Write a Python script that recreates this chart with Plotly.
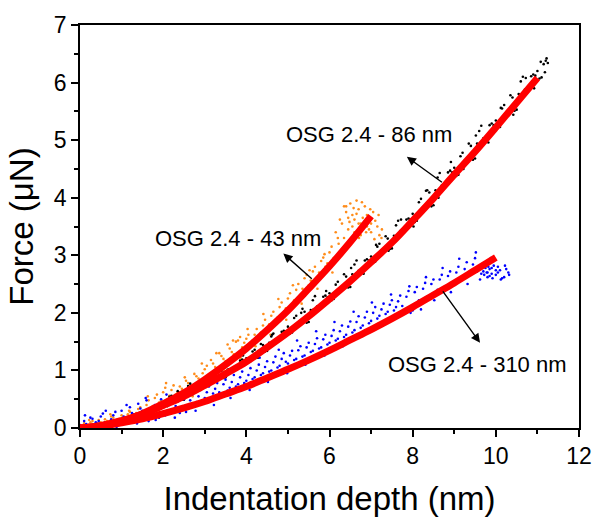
import plotly.graph_objects as go

# ---- fitted curves ----
fit43_x = [0, 0.5, 1, 1.5, 2, 2.5, 3, 3.5, 4, 4.5, 5, 5.5, 6, 6.5, 7.0]
fit43_y = [0, 0.04, 0.12, 0.25, 0.42, 0.61, 0.84, 1.10, 1.38, 1.70, 2.04, 2.42, 2.81, 3.23, 3.68]

fit86_x = [0, 0.5, 1, 1.5, 2, 2.5, 3, 3.5, 4, 4.5, 5, 5.5, 6, 6.5, 7, 7.5, 8, 8.5, 9, 9.5, 10, 10.5, 11.0]
fit86_y = [0, 0.04, 0.13, 0.24, 0.39, 0.55, 0.74, 0.94, 1.15, 1.40, 1.66, 1.94, 2.24, 2.55, 2.88, 3.22,
           3.60, 3.99, 4.40, 4.80, 5.22, 5.65, 6.08]

fit310_x = [0, 0.5, 1, 1.5, 2, 2.5, 3, 3.5, 4, 4.5, 5, 5.5, 6, 6.5, 7, 7.5, 8, 8.5, 9, 9.5, 10.0]
fit310_y = [0, 0.03, 0.09, 0.16, 0.25, 0.35, 0.46, 0.59, 0.72, 0.87, 1.02, 1.18, 1.35, 1.53, 1.71, 1.90,
            2.10, 2.31, 2.52, 2.74, 2.96]

# ---- measured points: OSG 2.4 - 43 nm (orange) ----
orange_x = [0.0, 0.1, 0.2, 0.3, 0.4, 0.5, 0.6, 0.7, 0.8, 0.9, 1.0, 1.1, 1.2, 1.3, 1.4, 1.5, 1.6, 1.7, 1.8, 1.9,
            2.0, 2.1, 2.2, 2.3, 2.4, 2.5, 2.6, 2.7, 2.8, 2.9, 3.0, 3.1, 3.2, 3.3, 3.4, 3.5, 3.6, 3.7, 3.8, 3.9,
            4.0, 4.1, 4.2, 4.3, 4.4, 4.5, 4.6, 4.7, 4.8, 4.9, 5.0, 5.1, 5.2, 5.3, 5.4, 5.5, 5.6, 5.7, 5.8, 5.9,
            6.0, 6.1, 6.2, 6.3, 6.4, 6.5, 6.6, 6.7, 6.8, 6.9, 7.0, 7.1, 7.2,
            0.05, 0.15, 0.25, 0.35, 0.45, 0.55, 0.65, 0.75, 0.85, 0.95, 1.05, 1.15, 1.25, 1.35, 1.45, 1.55,
            1.65, 1.75, 1.85, 1.95, 2.05, 2.15, 2.25, 2.35, 2.45, 2.55, 2.65, 2.75, 2.85, 2.95, 3.05, 3.15,
            3.25, 3.35, 3.45, 3.55, 3.65, 3.75, 3.85, 3.95, 4.05, 4.15, 4.25, 4.35, 4.45, 4.55, 4.65, 4.75,
            4.85, 4.95, 5.05, 5.15, 5.25, 5.35, 5.45, 5.55, 5.65, 5.75, 5.85, 5.95, 6.05, 6.15, 6.25, 6.35,
            6.45, 6.55, 6.65, 6.75, 6.85, 6.95, 7.05, 7.15, 7.25,
            6.6, 6.7, 6.8, 6.75, 6.85, 6.65, 6.9, 6.95, 6.55, 7.0, 6.45, 6.35, 6.4,
            0.22, 0.48, 0.73, 0.97, 1.18, 1.42, 1.63, 1.88, 2.07, 2.31, 2.52, 2.71, 2.93, 3.12, 3.28, 3.47,
            3.68, 3.86, 4.03, 4.22, 4.41, 4.58, 4.77, 4.96, 5.12, 5.33, 5.52, 5.71, 5.88, 6.07, 6.22, 6.33,
            6.48, 6.58, 6.71, 6.78, 6.88, 6.98, 7.08, 7.18, 7.26]
orange_y = [0.02, 0.08, 0.05, 0.12, 0.04, 0.10, 0.15, 0.09, 0.18, 0.12, 0.22, 0.16, 0.28, 0.20, 0.33, 0.26,
            0.40, 0.31, 0.52, 0.44, 0.62, 0.50, 0.66, 0.58, 0.72, 0.64, 0.78, 0.70, 0.90, 0.82, 1.02, 0.92,
            1.12, 1.00, 1.25, 1.16, 1.38, 1.28, 1.52, 1.40, 1.55, 1.47, 1.62, 1.55, 1.78, 1.70, 1.95, 1.84,
            2.10, 1.98, 2.25, 2.12, 2.40, 2.30, 2.60, 2.48, 2.72, 2.60, 2.90, 2.80, 3.05, 2.95, 3.30, 3.55,
            3.75, 3.90, 3.62, 3.80, 3.50, 3.70, 3.40, 3.60, 3.35,
            0.00, 0.03, 0.10, 0.06, 0.14, 0.05, 0.12, 0.20, 0.10, 0.16, 0.12, 0.24, 0.18, 0.26, 0.36, 0.30,
            0.48, 0.38, 0.58, 0.48, 0.70, 0.56, 0.74, 0.62, 0.68, 0.82, 0.72, 0.94, 0.86, 0.95, 1.08, 1.18,
            1.06, 1.30, 1.20, 1.45, 1.32, 1.50, 1.58, 1.48, 1.62, 1.52, 1.72, 1.66, 1.88, 1.80, 2.02, 1.92,
            2.18, 2.08, 2.34, 2.22, 2.50, 2.42, 2.66, 2.56, 2.80, 2.70, 2.96, 2.86, 3.15, 3.40, 3.62, 3.85,
            3.45, 3.70, 3.95, 3.55, 3.85, 3.45, 3.75, 3.50, 3.30,
            3.40, 3.55, 3.65, 3.35, 3.60, 3.72, 3.50, 3.65, 3.50, 3.55, 3.65, 3.30, 3.85,
            0.14, 0.02, 0.24, 0.06, 0.30, 0.14, 0.55, 0.30, 0.78, 0.45, 0.88, 0.55, 1.12, 0.78, 1.30, 0.98,
            1.52, 1.22, 1.72, 1.42, 1.98, 1.62, 2.24, 1.88, 2.48, 2.16, 2.74, 2.42, 3.02, 2.70, 3.20, 3.05,
            3.58, 3.82, 3.30, 3.92, 3.40, 3.80, 3.28, 3.70, 3.45]

# ---- measured points: OSG 2.4 - 86 nm (black) ----
black_x = [0.0, 0.3, 0.6, 0.9, 1.2, 1.5, 1.8,
           2.0, 2.1, 2.2, 2.3, 2.4, 2.5, 2.6, 2.7, 2.8, 2.9, 3.0, 3.1, 3.2, 3.3, 3.4, 3.5, 3.6, 3.7, 3.8, 3.9,
           4.0, 4.1, 4.2, 4.3, 4.4, 4.5, 4.6, 4.7, 4.8, 4.9, 5.0, 5.1, 5.2, 5.3, 5.4, 5.5, 5.6, 5.7, 5.8, 5.9,
           6.0, 6.1, 6.2, 6.3, 6.4, 6.5, 6.6, 6.7, 6.8, 6.9, 7.0, 7.1, 7.2, 7.3, 7.4, 7.5, 7.6, 7.7, 7.8, 7.9,
           8.0, 8.1, 8.2, 8.3, 8.4, 8.5, 8.6, 8.7, 8.8, 8.9, 9.0, 9.1, 9.2, 9.3, 9.4, 9.5, 9.6, 9.7, 9.8, 9.9,
           10.0, 10.1, 10.2, 10.3, 10.4, 10.5, 10.6, 10.7, 10.8, 10.9, 11.0, 11.1, 11.2,
           2.05, 2.15, 2.25, 2.35, 2.45, 2.55, 2.65, 2.75, 2.85, 2.95, 3.05, 3.15, 3.25, 3.35, 3.45, 3.55,
           3.65, 3.75, 3.85, 3.95, 4.05, 4.15, 4.25, 4.35, 4.45, 4.55, 4.65, 4.75, 4.85, 4.95, 5.05, 5.15,
           5.25, 5.35, 5.45, 5.55, 5.65, 5.75, 5.85, 5.95, 6.05, 6.15, 6.25, 6.35, 6.45, 6.55, 6.65, 6.75,
           6.85, 6.95, 7.05, 7.15, 7.25, 7.35, 7.45, 7.55, 7.65, 7.75, 7.85, 7.95, 8.05, 8.15, 8.25, 8.35,
           8.45, 8.55, 8.65, 8.75, 8.85, 8.95, 9.05, 9.15, 9.25, 9.35, 9.45, 9.55, 9.65, 9.75, 9.85, 9.95,
           10.05, 10.15, 10.25, 10.35, 10.45, 10.55, 10.65, 10.75, 10.85, 10.95, 11.05, 11.15, 11.25,
           2.52, 2.88, 3.22, 3.58, 3.92, 4.28, 4.62, 4.98, 5.32, 5.62, 5.92, 6.22, 6.52, 6.82, 7.12, 7.42,
           7.72, 8.02, 8.32, 8.62, 8.92, 9.22, 9.52, 9.82, 10.12, 10.42, 10.72, 10.92, 11.08, 11.18, 11.22]
black_y = [0.01, 0.03, 0.07, 0.10, 0.17, 0.25, 0.33,
           0.45, 0.38, 0.56, 0.50, 0.61, 0.49, 0.73, 0.66, 0.64, 0.78, 0.80, 0.74, 0.93, 0.87, 0.99, 0.88,
           1.12, 1.05, 1.05, 1.19, 1.21, 1.16, 1.36, 1.31, 1.44, 1.34, 1.59, 1.53, 1.54, 1.69, 1.76, 1.66,
           1.95, 1.85, 2.02, 1.84, 2.22, 2.11, 2.09, 2.30, 2.34, 2.24, 2.54, 2.45, 2.63, 2.45, 2.84, 2.73,
           2.72, 2.93, 2.98, 2.89, 3.20, 3.10, 3.29, 3.12, 3.52, 3.42, 3.42, 3.64, 3.72, 3.60, 3.98, 3.85,
           4.09, 3.87, 4.35, 4.21, 4.20, 4.47, 4.52, 4.40, 4.78, 4.66, 4.90, 4.68, 5.16, 5.03, 5.01, 5.29,
           5.34, 5.23, 5.61, 5.50, 5.74, 5.53, 6.02, 5.88, 5.87, 6.14, 6.20, 6.09, 6.38,
           0.38, 0.54, 0.49, 0.64, 0.49, 0.62, 0.77, 0.64, 0.76, 0.76, 0.73, 0.90, 0.86, 1.01, 0.87, 1.01,
           1.16, 1.04, 1.17, 1.17, 1.15, 1.33, 1.30, 1.46, 1.33, 1.48, 1.64, 1.52, 1.67, 1.68, 1.64, 1.91,
           1.83, 2.07, 1.83, 2.05, 2.29, 2.07, 2.28, 2.27, 2.22, 2.49, 2.43, 2.67, 2.44, 2.67, 2.91, 2.70,
           2.91, 2.91, 2.87, 3.15, 3.08, 3.33, 3.11, 3.34, 3.60, 3.39, 3.62, 3.62, 3.58, 3.92, 3.84, 4.13,
           3.85, 4.13, 4.43, 4.18, 4.44, 4.44, 4.38, 4.72, 4.64, 4.94, 4.66, 4.94, 5.25, 4.99, 5.26, 5.26,
           5.21, 5.55, 5.48, 5.78, 5.51, 5.80, 6.10, 5.85, 6.11, 6.12, 6.07, 6.32, 6.34,
           0.62, 0.70, 0.96, 1.02, 1.26, 1.22, 1.62, 1.62, 2.00, 2.06, 2.38, 2.36, 2.78, 2.68, 3.18, 3.08,
           3.62, 3.50, 4.12, 4.00, 4.62, 4.50, 5.08, 4.96, 5.56, 5.44, 6.08, 5.90, 6.36, 6.18, 6.42]

# ---- measured points: OSG 2.4 - 310 nm (blue) ----
blue_x = [0.0, 0.1, 0.2, 0.3, 0.4, 0.5, 0.6, 0.7, 0.8, 0.9, 1.0, 1.1, 1.2, 1.3, 1.4, 1.5, 1.6, 1.7, 1.8, 1.9,
          2.0, 2.1, 2.2, 2.3, 2.4, 2.5, 2.6, 2.7, 2.8, 2.9, 3.0, 3.1, 3.2, 3.3, 3.4, 3.5, 3.6, 3.7, 3.8, 3.9,
          4.0, 4.1, 4.2, 4.3, 4.4, 4.5, 4.6, 4.7, 4.8, 4.9, 5.0, 5.1, 5.2, 5.3, 5.4, 5.5, 5.6, 5.7, 5.8, 5.9,
          6.0, 6.1, 6.2, 6.3, 6.4, 6.5, 6.6, 6.7, 6.8, 6.9, 7.0, 7.1, 7.2, 7.3, 7.4, 7.5, 7.6, 7.7, 7.8, 7.9,
          8.0, 8.1, 8.2, 8.3, 8.4, 8.5, 8.6, 8.7, 8.8, 8.9, 9.0, 9.1, 9.2, 9.3, 9.4, 9.5, 9.6, 9.7, 9.8, 9.9,
          10.0, 10.1, 10.2, 10.3,
          0.05, 0.15, 0.25, 0.35, 0.45, 0.55, 0.65, 0.75, 0.85, 0.95, 1.05, 1.15, 1.25, 1.35, 1.45, 1.55,
          1.65, 1.75, 1.85, 1.95, 2.05, 2.15, 2.25, 2.35, 2.45, 2.55, 2.65, 2.75, 2.85, 2.95, 3.05, 3.15,
          3.25, 3.35, 3.45, 3.55, 3.65, 3.75, 3.85, 3.95, 4.05, 4.15, 4.25, 4.35, 4.45, 4.55, 4.65, 4.75,
          4.85, 4.95, 5.05, 5.15, 5.25, 5.35, 5.45, 5.55, 5.65, 5.75, 5.85, 5.95, 6.05, 6.15, 6.25, 6.35,
          6.45, 6.55, 6.65, 6.75, 6.85, 6.95, 7.05, 7.15, 7.25, 7.35, 7.45, 7.55, 7.65, 7.75, 7.85, 7.95,
          8.05, 8.15, 8.25, 8.35, 8.45, 8.55, 8.65, 8.75, 8.85, 8.95, 9.05, 9.15, 9.25, 9.35, 9.45, 9.55,
          9.65, 9.75, 9.85, 9.95, 10.05, 10.15, 10.25,
          9.7, 9.75, 9.8, 9.85, 9.9, 9.95, 10.0, 9.72, 9.82, 9.92, 10.05, 9.78,
          0.12, 0.38, 0.62, 0.88, 1.12, 1.37, 1.58, 1.82, 2.08, 2.28, 2.52, 2.78, 2.98, 3.22, 3.42, 3.62,
          3.88, 4.08, 4.32, 4.52, 4.78, 4.98, 5.22, 5.42, 5.68, 5.88, 6.12, 6.32, 6.58, 6.78, 7.02, 7.22,
          7.48, 7.68, 7.92, 8.12, 8.32, 8.52, 8.72, 8.92, 9.12, 9.32, 9.52, 9.62, 9.88, 10.12, 10.22, 10.32]
blue_y = [0.05, 0.12, 0.03, 0.16, 0.08, 0.20, 0.10, 0.04, 0.22, 0.14, 0.30, 0.18, 0.36, 0.24, 0.42, 0.30,
          0.48, 0.22, 0.40, 0.18, 0.45, 0.30, 0.52, 0.38, 0.26, 0.50, 0.34, 0.58, 0.45, 0.66, 0.52, 0.72,
          0.60, 0.78, 0.55, 0.84, 0.70, 0.92, 0.76, 0.98, 0.82, 1.04, 0.88, 1.10, 0.95, 1.16, 1.00, 1.24,
          1.08, 1.30, 1.12, 1.34, 1.20, 1.42, 1.26, 1.48, 1.34, 1.56, 1.40, 1.62, 1.48, 1.70, 1.55, 1.78,
          1.62, 1.85, 1.70, 1.94, 1.78, 2.02, 1.86, 2.10, 1.95, 2.16, 2.02, 2.22, 2.10, 2.30, 2.02, 2.38,
          2.04, 2.45, 2.06, 2.52, 2.30, 2.58, 2.40, 2.66, 2.46, 2.72, 2.55, 2.80, 2.62, 2.88, 2.70, 2.95,
          2.75, 2.82, 2.70, 2.78, 2.66, 2.74, 2.62, 2.70,
          0.00, 0.07, 0.18, 0.02, 0.12, 0.25, 0.06, 0.15, 0.28, 0.08, 0.20, 0.12, 0.26, 0.16, 0.34, 0.20,
          0.12, 0.30, 0.24, 0.50, 0.22, 0.40, 0.28, 0.46, 0.35, 0.28, 0.48, 0.38, 0.55, 0.42, 0.62, 0.50,
          0.68, 0.62, 0.76, 0.65, 0.80, 0.72, 0.88, 0.78, 0.92, 0.85, 1.00, 0.92, 1.06, 0.98, 1.14, 1.05,
          1.20, 1.15, 1.26, 1.18, 1.35, 1.24, 1.40, 1.32, 1.46, 1.38, 1.54, 1.45, 1.60, 1.52, 1.68, 1.58,
          1.76, 1.66, 1.84, 1.74, 1.92, 1.82, 2.00, 1.90, 2.06, 1.98, 2.14, 2.04, 2.20, 2.12, 2.28, 2.00,
          2.36, 2.22, 2.42, 2.28, 2.50, 2.36, 2.58, 2.44, 2.64, 2.52, 2.70, 2.58, 2.76, 2.66, 2.84, 2.72,
          2.68, 2.78, 2.64, 2.82, 2.70, 2.60, 2.76,
          2.72, 2.85, 2.62, 2.76, 2.68, 2.90, 2.74, 2.66, 2.80, 2.60, 2.80, 2.70,
          0.22, 0.10, 0.30, 0.02, 0.40, 0.08, 0.52, 0.14, 0.58, 0.18, 0.62, 0.30, 0.78, 0.40, 0.92, 0.52,
          1.08, 0.66, 1.22, 0.80, 1.36, 0.95, 1.52, 1.10, 1.68, 1.26, 1.84, 1.42, 2.02, 1.60, 2.18, 1.78,
          2.32, 1.96, 2.46, 2.12, 2.62, 2.22, 2.78, 2.36, 2.94, 2.50, 3.05, 2.58, 2.95, 2.58, 2.82, 2.66]

# ---- labels ----
label_43 = "OSG 2.4 - 43 nm"
label_86 = "OSG 2.4 - 86 nm"
label_310 = "OSG 2.4 - 310 nm"

FONT = "Arial, 'Liberation Sans', sans-serif"

fig = go.Figure()
mk = dict(size=2.6, line=dict(width=0))
fig.add_trace(go.Scatter(x=orange_x, y=orange_y, mode="markers", marker=dict(color="#ff8c1a", **mk)))
fig.add_trace(go.Scatter(x=black_x, y=black_y, mode="markers", marker=dict(color="#000000", **mk)))
fig.add_trace(go.Scatter(x=blue_x, y=blue_y, mode="markers", marker=dict(color="#0000ff", **mk)))
for fx, fy in [(fit43_x, fit43_y), (fit86_x, fit86_y), (fit310_x, fit310_y)]:
    fig.add_trace(go.Scatter(x=fx, y=fy, mode="lines", line=dict(color="#ff0000", width=7, shape="spline")))

axis_common = dict(
    showgrid=False, zeroline=False, showline=True, linecolor="black", linewidth=1.5,
    mirror=True, ticks="outside", ticklen=7, tickwidth=1.5, tickcolor="black", automargin=False,
    tickfont=dict(family=FONT, size=23, color="black"),
)
fig.update_xaxes(range=[0, 12], dtick=2, tick0=0,
                 minor=dict(ticks="outside", ticklen=4, dtick=1, tickwidth=1.5, tickcolor="black"),
                 title=dict(text="Indentation depth (nm)", font=dict(family=FONT, size=33, color="black"),
                            standoff=20),
                 **axis_common)
fig.update_yaxes(range=[0, 7], dtick=1, tick0=0,
                 minor=dict(ticks="outside", ticklen=4, dtick=0.5, tickwidth=1.5, tickcolor="black"),
                 title=dict(text="Force (μN)", font=dict(family=FONT, size=33, color="black"), standoff=10),
                 **axis_common)

# text labels
for txt, tx, ty in [(label_86, 6.95, 5.09), (label_43, 3.8, 3.30), (label_310, 9.57, 1.11)]:
    fig.add_annotation(x=tx, y=ty, text=txt, showarrow=False, xref="x", yref="y",
                       font=dict(family=FONT, size=22, color="black"))
# arrows (head at x,y ; tail at ax,ay)
for hx, hy, tx, ty in [(7.86, 4.71, 8.74, 4.25), (4.89, 3.03, 5.61, 2.57), (9.62, 1.48, 8.70, 2.40)]:
    fig.add_annotation(x=hx, y=hy, ax=tx, ay=ty, xref="x", yref="y", axref="x", ayref="y",
                       text="", showarrow=True, arrowhead=2, arrowsize=1.3, arrowwidth=1.4,
                       arrowcolor="black")

fig.update_layout(
    width=595, height=517, showlegend=False,
    margin=dict(l=80, r=16, t=25, b=89),
    paper_bgcolor="white", plot_bgcolor="white",
)
fig.write_html("out.html")
